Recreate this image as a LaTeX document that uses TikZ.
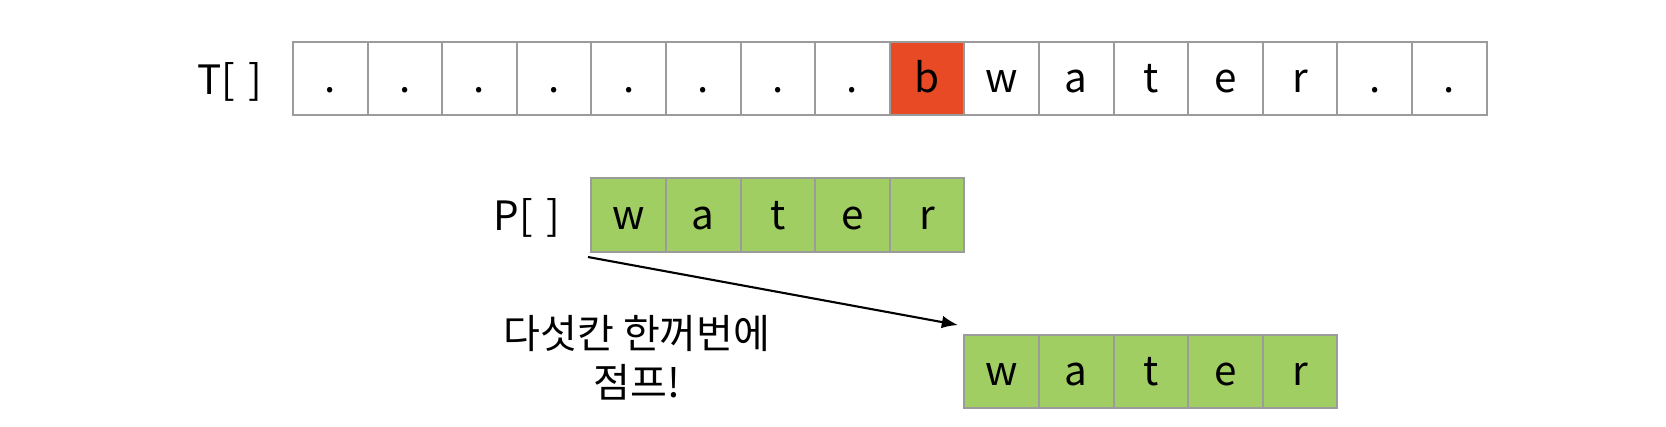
\documentclass[tikz,border=0pt]{standalone}
\usepackage{fontspec}
\setmainfont{Noto Sans CJK KR}
\usepackage{tikz}
\usetikzlibrary{arrows.meta}
\definecolor{cellgray}{HTML}{9B9B9B}
\definecolor{hitred}{HTML}{E94A26}
\definecolor{patgreen}{HTML}{A0CE63}

\begin{document}
\begin{tikzpicture}[
						cellnode/.style={rectangle, draw=cellgray, line width=0.6pt, fill=white, minimum width=7.46mm, minimum height=7.33mm, inner sep=0pt, outer sep=0pt, text height=10pt, text depth=2pt, font=\fontsize{11.5}{13}\selectfont},
						redcell/.style={cellnode, fill=hitred},
						greencell/.style={cellnode, fill=patgreen},
						labelnode/.style={inner sep=0pt, text height=10pt, text depth=2pt, font=\fontsize{11.5}{13}\selectfont},
						]
						\useasboundingbox (0,0) rectangle (16.66,-4.26);
						%Text array
						\node[labelnode]      (tlabel) 	at 	(2.30,-0.80)     {T[\,\,]};
						\node[cellnode]      (t0) 	at 	(3.303,-0.784)   {.};
						\node[cellnode]      (t1) 	at 	(4.049,-0.784)   {.};
						\node[cellnode]      (t2) 	at 	(4.795,-0.784)   {.};
						\node[cellnode]      (t3) 	at 	(5.541,-0.784)   {.};
						\node[cellnode]      (t4) 	at 	(6.287,-0.784)   {.};
						\node[cellnode]      (t5) 	at 	(7.033,-0.784)   {.};
						\node[cellnode]      (t6) 	at 	(7.779,-0.784)   {.};
						\node[cellnode]      (t7) 	at 	(8.525,-0.784)   {.};
						\node[redcell]       (t8) 	at 	(9.271,-0.784)   {b};
						\node[cellnode]      (t9) 	at 	(10.017,-0.784)  {w};
						\node[cellnode]      (t10) 	at 	(10.763,-0.784)  {a};
						\node[cellnode]      (t11) 	at 	(11.509,-0.784)  {t};
						\node[cellnode]      (t12) 	at 	(12.255,-0.784)  {e};
						\node[cellnode]      (t13) 	at 	(13.001,-0.784)  {r};
						\node[cellnode]      (t14) 	at 	(13.747,-0.784)  {.};
						\node[cellnode]      (t15) 	at 	(14.493,-0.784)  {.};
						
						%Pattern array
						\node[labelnode]      (plabel) 	at 	(5.27,-2.16)     {P[\,\,]};
						\node[greencell]      (p0) 	at 	(6.287,-2.150)   {w};
						\node[greencell]      (p1) 	at 	(7.033,-2.150)   {a};
						\node[greencell]      (p2) 	at 	(7.779,-2.150)   {t};
						\node[greencell]      (p3) 	at 	(8.525,-2.150)   {e};
						\node[greencell]      (p4) 	at 	(9.271,-2.150)   {r};
						
						%Shifted pattern
						\node[greencell]      (q0) 	at 	(10.017,-3.715)  {w};
						\node[greencell]      (q1) 	at 	(10.763,-3.715)  {a};
						\node[greencell]      (q2) 	at 	(11.509,-3.715)  {t};
						\node[greencell]      (q3) 	at 	(12.255,-3.715)  {e};
						\node[greencell]      (q4) 	at 	(13.001,-3.715)  {r};
						
						%Jump
						\node[align=center, inner sep=0pt, font=\fontsize{11.4}{14}\selectfont] (jumptext) at (6.37,-3.58) {다섯칸 한꺼번에\\점프!};
						\coordinate (jumpfrom) at (5.88,-2.57);
						\coordinate (jumpto) at (9.58,-3.25);
						\draw[line width=0.6pt,-{Latex[length=4.6pt,width=3.6pt]}] (jumpfrom) -- (jumpto);
					\end{tikzpicture}
\end{document}
